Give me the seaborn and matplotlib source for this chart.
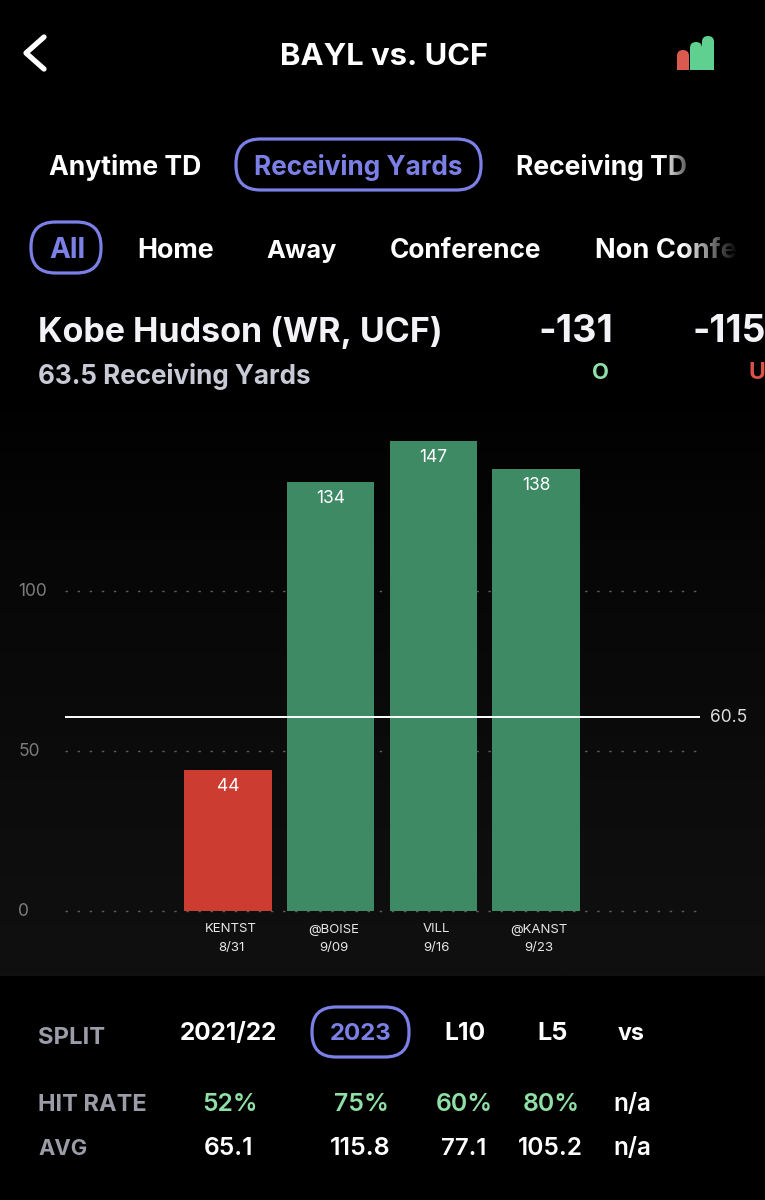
import numpy as np
import pandas as pd
import matplotlib
matplotlib.use("Agg")
import matplotlib.pyplot as plt
import seaborn as sns
from matplotlib.font_manager import FontProperties
from matplotlib.patches import FancyBboxPatch, Rectangle
from matplotlib.textpath import TextPath
from matplotlib.transforms import ScaledTranslation

# ---- data ----
opponents = ["KENTST", "@BOISE", "VILL", "@KANST"]
dates = ["8/31", "9/09", "9/16", "9/23"]
yards = [44, 134, 147, 138]
outcomes = ["under", "over", "over", "over"]
line_value = 60.5
y_ticks = [0, 50, 100]
split_labels = ["2021/22", "2023", "L10", "L5", "vs"]
hit_rates = ["52%", "75%", "60%", "80%", "n/a"]
averages = ["65.1", "115.8", "77.1", "105.2", "n/a"]

# ---- style ----
BG = "#000000"
GREEN = "#3E8A64"
RED = "#CC3C30"
PURPLE = "#7C80E6"
LGREEN = "#8FDFA6"
GREY = "#9A9CA8"
FONT = "Inter"

sns.set_theme(style="dark", rc={"axes.facecolor": "none", "figure.facecolor": BG})
plt.rcParams["font.family"] = [FONT, "DejaVu Sans"]

W, H = 765, 1200
fig = plt.figure(figsize=(W / 100, H / 100), dpi=100, facecolor=BG)

# panel gradient behind the chart
bg_ax = fig.add_axes([0, 0, 1, 1], zorder=0)
bg_ax.set_xlim(0, W)
bg_ax.set_ylim(H, 0)
bg_ax.axis("off")
grad = np.linspace(0, 1, 256).reshape(-1, 1) ** 0.7
bg_ax.imshow(grad, extent=[0, W, 976, 400], aspect="auto", cmap=matplotlib.colors.LinearSegmentedColormap.from_list("p", ["#000000", "#101010"]), vmin=0, vmax=1)
bg_ax.set_xlim(0, W)
bg_ax.set_ylim(H, 0)

# chart axes: x 65..700 px, y 0 -> 911 px, 3.2 px per yard
top_px, bottom_px = 430, 911
ax = fig.add_axes([65 / W, 1 - bottom_px / H, 635 / W, (bottom_px - top_px) / H], zorder=1)
df = pd.DataFrame({"opp": [f"{o}\n{d}" for o, d in zip(opponents, dates)], "yards": yards, "outcome": outcomes})
sns.barplot(data=df, x="opp", y="yards", hue="outcome", palette={"under": RED, "over": GREEN},
            dodge=False, width=0.85, saturation=1, legend=False, ax=ax, zorder=3, linewidth=0)
for c in ax.containers:
    ax.bar_label(c, padding=-18, color="white", fontsize=12.5, fontfamily=FONT)
ax.set_xlim(-1.587, 4.596)
ax.set_ylim(0, (bottom_px - top_px) / 3.2)
ax.set_yticks(y_ticks)
ax.set_xlabel("")
ax.set_ylabel("")
ax.grid(False)
ax.yaxis.grid(True, color="#5c5c5c", linewidth=1, linestyle=(0, (1.8, 6.9)), zorder=1)
for gl in ax.get_ygridlines():
    gl.set_clip_on(False)
ax.set_axisbelow(True)
for s in ax.spines.values():
    s.set_visible(False)
ax.tick_params(axis="both", length=0)
ax.tick_params(axis="y", labelsize=12.5, labelcolor="#7c7c7c", pad=33)
ax.tick_params(axis="x", labelsize=9.5, labelcolor="#e8e8e8", pad=9)
up = ScaledTranslation(-1 / 100, 1.5 / 100, fig.dpi_scale_trans)
for lab in ax.get_yticklabels():
    lab.set_horizontalalignment("left")
    lab.set_transform(lab.get_transform() + up)
off = ScaledTranslation(3 / 100, 0, fig.dpi_scale_trans)
for lab in ax.get_xticklabels():
    lab.set_transform(lab.get_transform() + off)
    lab.set_linespacing(1.75)
ax.axhline(line_value, color="white", linewidth=1.4, zorder=4)
ax.annotate(f"{line_value}", xy=(1, line_value), xycoords=("axes fraction", "data"), xytext=(10 * 0.72, 0),
            textcoords="offset points", va="center", ha="left", color="#dddddd", fontsize=12.5)

# overlay UI in pixel coordinates
ui = fig.add_axes([0, 0, 1, 1], zorder=2)
ui.set_xlim(0, W)
ui.set_ylim(H, 0)
ui.axis("off")
ui.patch.set_alpha(0)

def fit(x0, x1, base, s, color="white", weight="bold"):
    fp = FontProperties(family=FONT, weight=weight)
    ext = TextPath((0, 0), s, size=10, prop=fp).get_extents()
    size = 0.99 * 10 * (x1 - x0) / (ext.width * 100 / 72)
    ui.text(x0, base, s, color=color, fontproperties=fp, fontsize=size, ha="left", va="baseline")

fit(280, 487, 65, "BAYL vs. UCF")
fit(49, 201, 175, "Anytime TD")
fit(254, 462, 175, "Receiving Yards", PURPLE)
fit(516, 686, 175, "Receiving TD")
fit(49, 83, 258, "All", PURPLE)
fit(137, 212, 258, "Home")
fit(266, 336, 258, "Away")
fit(390, 541, 258, "Conference")
fit(595, 747, 258, "Non Confer")
fit(38, 442, 342, "Kobe Hudson (WR, UCF)", "#F2F2F7")
fit(538, 608, 342, "-131", "#F2F2F7")
fit(693, 763, 342, "-115", "#F2F2F7")
fit(592, 607, 379, "O", LGREEN)
fit(749, 763, 379, "U", "#D9534A")
fit(38, 312, 384, "63.5 Receiving Yards", "#C8CBD6")

# fades over clipped labels
def fade(x0, x1, y0, y1):
    a = np.zeros((1, 64, 4))
    a[..., 3] = np.linspace(0, 1, 64)
    ui.imshow(a, extent=[x0, x1, y1, y0], aspect="auto", zorder=5)
fade(662, 700, 150, 185)
fade(682, 738, 232, 268)
ui.add_patch(Rectangle((738, 232), 27, 36, color=BG, zorder=6))
ui.set_xlim(0, W)
ui.set_ylim(H, 0)

def pill(x0, x1, y0, y1):
    r = (y1 - y0) / 2 - 1
    ui.add_patch(FancyBboxPatch((x0 + r, y0 + r), x1 - x0 - 2 * r, y1 - y0 - 2 * r,
                                boxstyle=f"round,pad={r}", fc="none", ec=PURPLE, lw=2.3))
pill(236, 481, 139, 190)
pill(31, 101, 222, 273)
pill(312, 409, 1007, 1057)

# back chevron
ui.plot([44, 26, 44], [37, 53, 69], color="white", lw=3.8, solid_capstyle="round", solid_joinstyle="round")

# small icon
for x0, x1, y0, col in [(677, 689, 50, "#DB5A50"), (690, 702, 42, "#5FD08F"), (702, 714, 36, "#5FD08F")]:
    r = (x1 - x0) / 2
    ui.add_patch(FancyBboxPatch((x0 + r, y0 + r), 0.01, 70 - y0 - 2 * r, boxstyle=f"round,pad={r}", fc=col, ec="none"))
    ui.add_patch(Rectangle((x0, 70 - r - 1), x1 - x0, r + 1, fc=col, ec="none"))

# bottom table
fit(38, 104, 1044, "SPLIT", GREY)
fit(38, 145, 1111, "HIT RATE", GREY)
fit(38, 86, 1155, "AVG", GREY)
split_x = [(180, 276), (330, 390), (444, 483), (537, 565), (618, 644)]
hit_x = [(202, 254), (334, 386), (436, 490), (523, 577), (613, 648)]
avg_x = [(204, 251), (330, 389), (441, 484), (518, 581), (613, 648)]
for i, s in enumerate(split_labels):
    fit(*split_x[i], 1040, s, PURPLE if s == "2023" else "white")
for i, s in enumerate(hit_rates):
    fit(*hit_x[i], 1111, s, "white" if s == "n/a" else LGREEN, weight="semibold")
for i, s in enumerate(averages):
    fit(*avg_x[i], 1155, s, "white", weight="semibold")

fig.savefig("out.png", dpi=100, facecolor=BG)
